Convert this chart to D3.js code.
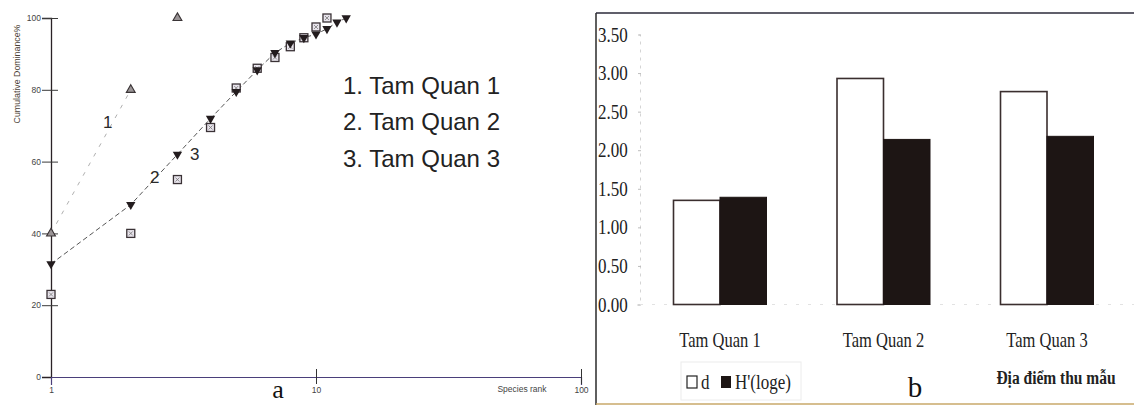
<!DOCTYPE html>
<html>
<head>
<meta charset="utf-8">
<script src="https://cdn.jsdelivr.net/npm/d3@7"></script>
<style>
  html, body { margin: 0; padding: 0; background: #fff; }
  svg { display: block; }
</style>
</head>
<body>
<svg id="chart" width="1134" height="405"></svg>
<script>
// ---- Panel a: cumulative dominance curves (k-dominance) ----
const sites = ["Tam Quan 1", "Tam Quan 2", "Tam Quan 3"];
const rankTQ1 = [1, 2, 3];
const domTQ1 = [40, 80, 100];
const rankTQ2 = [1, 2, 3, 4, 5, 6, 7, 8, 9, 10, 11, 12, 13];
const domTQ2 = [31.5, 48, 62, 72, 79.5, 85.5, 90.3, 93, 94.5, 95.5, 97, 98.8, 100];
const rankTQ3 = [1, 2, 3, 4, 5, 6, 7, 8, 9, 10, 11];
const domTQ3 = [23, 40, 55, 69.5, 80.5, 86, 89, 92, 94.5, 97.5, 100];
const domTicks = [0, 20, 40, 60, 80, 100];
const rankTicks = [1, 10, 100];

// ---- Panel b: diversity indices per site ----
const indexD = [1.35, 2.93, 2.76];      // Margalef d
const indexH = [1.39, 2.14, 2.18];      // Shannon H'(loge)
const indexTicks = [0, 0.5, 1, 1.5, 2, 2.5, 3, 3.5];

const svg = d3.select("#chart");

// ================= Panel a =================
const xA = d3.scaleLog().domain([1, 100]).range([51, 581]);
const yA = d3.scaleLinear().domain([0, 100]).range([377, 18]);
const a = svg.append("g");

// y axis
const yAxisA = a.append("g").attr("transform", `translate(${xA(1)},0)`)
  .call(d3.axisLeft(yA).tickValues(domTicks).tickSize(9).tickFormat(d3.format("d")));
yAxisA.select(".domain").attr("stroke", "#2a2226").attr("stroke-width", 1.3);
yAxisA.selectAll(".tick line").attr("x1", -9).attr("x2", 7).attr("stroke", "#3a3a3a")
  .attr("display", d => d === 0 ? "none" : null);
yAxisA.selectAll(".tick text").attr("x", -10).attr("font-family", "Liberation Sans, Arial, sans-serif")
  .attr("font-size", 8.5).attr("fill", "#444");

// x axis
const xAxisA = a.append("g").attr("transform", `translate(0,${yA(0)})`)
  .call(d3.axisBottom(xA).tickValues(rankTicks).tickSize(8).tickFormat(d3.format("d")));
xAxisA.select(".domain").attr("stroke", "#4a3f7a").attr("stroke-width", 1.2);
xAxisA.selectAll(".tick line").attr("y1", -8).attr("y2", 7).attr("stroke", "#333")
  .attr("display", d => d === 1 ? "none" : null);
xAxisA.selectAll(".tick text").attr("y", 10).attr("font-family", "Liberation Sans, Arial, sans-serif")
  .attr("font-size", 8.5).attr("fill", "#444");

a.append("text").attr("x", 522).attr("y", 392).attr("text-anchor", "middle")
  .attr("font-family", "Liberation Sans, Arial, sans-serif").attr("font-size", 8.5).attr("fill", "#444")
  .text("Species rank");
a.append("text").attr("transform", `translate(20,74) rotate(-90)`).attr("text-anchor", "middle")
  .attr("font-family", "Liberation Sans, Arial, sans-serif").attr("font-size", 8.8).attr("fill", "#4a3e34")
  .text("Cumulative Dominance%");

// curve lines
const lineA = d3.line().x(d => xA(d[0])).y(d => yA(d[1]));
const pts1 = rankTQ1.map((r, i) => [r, domTQ1[i]]);
const pts2 = rankTQ2.map((r, i) => [r, domTQ2[i]]);
const pts3 = rankTQ3.map((r, i) => [r, domTQ3[i]]);

a.append("path").datum(pts1.slice(0, 2)).attr("d", lineA).attr("fill", "none")
  .attr("stroke", "#b0b0b0").attr("stroke-width", 1).attr("stroke-dasharray", "4,7");
a.append("path").datum(pts2).attr("d", lineA).attr("fill", "none")
  .attr("stroke", "#555").attr("stroke-width", 1).attr("stroke-dasharray", "5,3");

// markers: squares (site 3)
a.append("g").selectAll("g").data(pts3).join("g")
  .attr("transform", d => `translate(${xA(d[0])},${yA(d[1])})`)
  .each(function () {
    const g = d3.select(this);
    g.append("rect").attr("x", -4).attr("y", -4).attr("width", 8).attr("height", 8)
      .attr("fill", "#e8e4ec").attr("stroke", "#3a3236").attr("stroke-width", 1.3);
    g.append("path").attr("d", "M-2,-2L2,2M2,-2L-2,2").attr("stroke", "#777").attr("stroke-width", 0.8);
  });

// markers: inverted triangles (site 2)
const triDown = d3.symbol().type(d3.symbolTriangle).size(38);
a.append("g").selectAll("path").data(pts2).join("path")
  .attr("d", triDown)
  .attr("transform", d => `translate(${xA(d[0])},${yA(d[1])}) rotate(180)`)
  .attr("fill", "#231c1e");

// markers: triangles (site 1)
a.append("g").selectAll("path").data(pts1).join("path")
  .attr("d", d3.symbol().type(d3.symbolTriangle).size(34))
  .attr("transform", d => `translate(${xA(d[0])},${yA(d[1])})`)
  .attr("fill", "#9a9496").attr("stroke", "#3a3436").attr("stroke-width", 1.1);

// curve numbers
const curveNums = [["1", 103, 128], ["2", 150, 183], ["3", 190, 160]];
a.append("g").selectAll("text").data(curveNums).join("text")
  .attr("x", d => d[1]).attr("y", d => d[2])
  .attr("font-family", "Liberation Sans, Arial, sans-serif").attr("font-size", 17).attr("fill", "#2a2a2a")
  .text(d => d[0]);

// key
a.append("g").selectAll("text").data(sites).join("text")
  .attr("x", 343).attr("y", (d, i) => 94 + i * 36.3)
  .attr("font-family", "Liberation Sans, Arial, sans-serif").attr("font-size", 24).attr("fill", "#222")
  .text((d, i) => `${i + 1}. ${d}`);

a.append("text").attr("x", 278).attr("y", 398).attr("text-anchor", "middle")
  .attr("font-family", "Liberation Serif, Times New Roman, serif").attr("font-size", 26).attr("fill", "#111")
  .text("a");

// ================= Panel b =================
const b = svg.append("g");
const xB = d3.scalePoint().domain(sites).range([720, 1047]);
const yB = d3.scaleLinear().domain([0, 3.5]).range([304.5, 34.5]);
const barW = 46.5;

// frame
b.append("line").attr("x1", 596).attr("x2", 596).attr("y1", 13).attr("y2", 405)
  .attr("stroke", "#2a2a2a").attr("stroke-width", 1.5);
b.append("line").attr("x1", 596).attr("x2", 1134).attr("y1", 13).attr("y2", 13)
  .attr("stroke", "#2b2a3a").attr("stroke-width", 1.6);
b.append("line").attr("x1", 596).attr("x2", 1134).attr("y1", 404).attr("y2", 404)
  .attr("stroke", "#c9a86a").attr("stroke-width", 1.6);

// y axis
const yAxisB = b.append("g").attr("transform", "translate(640,0)")
  .call(d3.axisLeft(yB).tickValues(indexTicks).tickSize(3).tickFormat(d3.format(".2f")));
yAxisB.select(".domain").attr("stroke", "#d4d4d4").attr("stroke-width", 1).attr("stroke-dasharray", "3,5");
yAxisB.selectAll(".tick line").attr("x1", -2).attr("x2", 1).attr("stroke", "#bdbdbd");
yAxisB.selectAll(".tick text").attr("x", -42).attr("y", 0).attr("text-anchor", "start")
  .attr("font-family", "Liberation Serif, Times New Roman, serif").attr("font-size", 17)
  .attr("fill", "#222").attr("transform", "scale(1,1.2)").attr("dy", "0.32em");

// faint baseline
b.append("line").attr("x1", 640).attr("x2", 1134).attr("y1", yB(0)).attr("y2", yB(0))
  .attr("stroke", "#e2e2e2").attr("stroke-width", 1).attr("stroke-dasharray", "3,9");

// bars
b.append("g").selectAll("rect").data(sites).join("rect")
  .attr("x", d => xB(d) - barW).attr("width", barW)
  .attr("y", (d, i) => yB(indexD[i])).attr("height", (d, i) => yB(0) - yB(indexD[i]))
  .attr("fill", "#fff").attr("stroke", "#3a2e2e").attr("stroke-width", 1.6);
b.append("g").selectAll("rect").data(sites).join("rect")
  .attr("x", d => xB(d)).attr("width", barW)
  .attr("y", (d, i) => yB(indexH[i])).attr("height", (d, i) => yB(0) - yB(indexH[i]))
  .attr("fill", "#1d1514").attr("stroke", "#1d1514").attr("stroke-width", 1);

// category labels
b.append("g").selectAll("text").data(sites).join("text")
  .attr("transform", d => `translate(${xB(d)},347) scale(1,1.3)`)
  .attr("text-anchor", "middle")
  .attr("font-family", "Liberation Serif, Times New Roman, serif").attr("font-size", 16.5).attr("fill", "#222")
  .text(d => d);

// legend
const lg = b.append("g");
lg.append("rect").attr("x", 681).attr("y", 362).attr("width", 120).attr("height", 38)
  .attr("fill", "none").attr("stroke", "#ececec").attr("stroke-width", 1);
lg.append("rect").attr("x", 687).attr("y", 376).attr("width", 10).attr("height", 12)
  .attr("fill", "#fff").attr("stroke", "#222").attr("stroke-width", 1.2);
lg.append("text").attr("transform", "translate(701,389) scale(1,1.25)")
  .attr("font-family", "Liberation Serif, Times New Roman, serif").attr("font-size", 17).attr("fill", "#222")
  .text("d");
lg.append("rect").attr("x", 721).attr("y", 376).attr("width", 10).attr("height", 12)
  .attr("fill", "#1d1514");
lg.append("text").attr("transform", "translate(735,389) scale(1,1.25)")
  .attr("font-family", "Liberation Serif, Times New Roman, serif").attr("font-size", 17).attr("fill", "#222")
  .text("H'(loge)");

b.append("text").attr("x", 915).attr("y", 397).attr("text-anchor", "middle")
  .attr("font-family", "Liberation Serif, Times New Roman, serif").attr("font-size", 29).attr("fill", "#111")
  .text("b");
b.append("text").attr("transform", "translate(1056,384) scale(1,1.25)").attr("text-anchor", "middle")
  .attr("font-family", "Liberation Serif, Times New Roman, serif").attr("font-size", 15.5)
  .attr("font-weight", "bold").attr("fill", "#222")
  .text("Địa điểm thu mẫu");
</script>
</body>
</html>
